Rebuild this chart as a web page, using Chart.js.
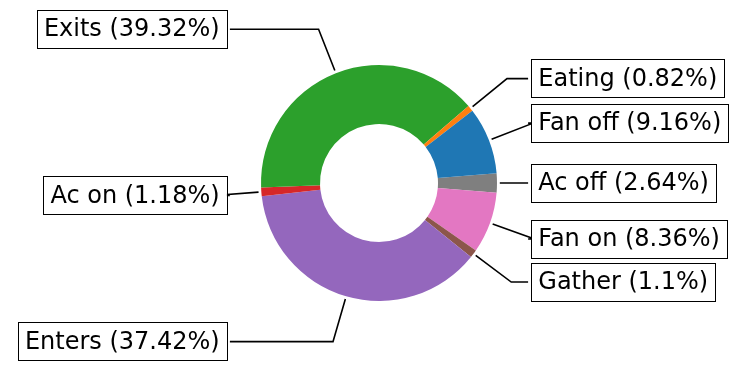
<!DOCTYPE html>
<html>
<head>
<meta charset="utf-8">
<script src="https://cdn.jsdelivr.net/npm/chart.js@4"></script>
<style>
  html, body { margin: 0; padding: 0; background: #fff; }
  canvas { display: block; }
</style>
</head>
<body>
<canvas id="myChart" width="747" height="374"></canvas>
<script>
// slices in matplotlib order (counter-clockwise)
const activities = ["Fan off", "Eating", "Exits", "Ac on", "Enters", "Gather", "Fan on", "Ac off"];
const shares = [9.16, 0.82, 39.32, 1.18, 37.42, 1.1, 8.36, 2.64];
const sliceColors = ["#1f77b4", "#ff7f0e", "#2ca02c", "#d62728", "#9467bd", "#8c564b", "#e377c2", "#7f7f7f"];
const startAngle = 4.75; // degrees, ccw from 3 o'clock

// chart.js goes clockwise, so flip the order
const labels = activities.slice().reverse();
const values = shares.slice().reverse();
const colors = sliceColors.slice().reverse();

const fontSize = 24;

// annotation boxes + angled connectors
const annotate = {
  id: "annotate",
  afterDraw(c) {
    const ctx = c.ctx;
    const arcs = c.getDatasetMeta(0).data;
    ctx.save();
    ctx.font = fontSize + "px 'DejaVu Sans'";
    arcs.forEach((arc, i) => {
      const mid = (arc.startAngle + arc.endAngle) / 2;
      const cos = Math.cos(mid), sin = Math.sin(mid);
      const R = arc.outerRadius;
      const px = arc.x + R * cos, py = arc.y + R * sin;
      const side = cos >= 0 ? 1 : -1;
      const tx = arc.x + 1.35 * R * side;
      const ty = arc.y + 1.4 * R * sin;

      const text = `${labels[i]} (${values[i]}%)`;
      const w = ctx.measureText(text).width;
      const pad = 0.3 * fontSize;
      const h = fontSize + 2 * pad;
      const bx = side > 0 ? tx - pad : tx - w - pad;
      const by = ty - h / 2;

      // connector
      const edgeX = side > 0 ? bx - 3 : bx + w + 2 * pad + 3;
      const sx = px + 2.8 * cos, sy = py + 2.8 * sin;
      ctx.strokeStyle = "#000";
      ctx.lineWidth = 1.6;
      ctx.beginPath();
      ctx.moveTo(sx, sy);
      if (Math.abs(sin) > 0.02) {
        const t = (ty - py) / sin;
        ctx.lineTo(px + t * cos, ty);
      }
      ctx.lineTo(edgeX, ty);
      ctx.stroke();

      // box
      ctx.fillStyle = "#fff";
      ctx.fillRect(bx, by, w + 2 * pad, h);
      ctx.lineWidth = 1;
      ctx.strokeRect(Math.round(bx) + 0.5, Math.round(by) + 0.5, Math.round(w + 2 * pad), Math.round(h));

      ctx.fillStyle = "#000";
      ctx.textBaseline = "alphabetic";
      ctx.textAlign = side > 0 ? "left" : "right";
      ctx.fillText(text, tx, ty + 0.29 * fontSize);
    });
    ctx.restore();
  }
};

new Chart(document.getElementById("myChart"), {
  type: "doughnut",
  data: {
    labels,
    datasets: [{
      data: values,
      backgroundColor: colors,
      borderWidth: 0,
    }],
  },
  options: {
    responsive: false,
    animation: false,
    devicePixelRatio: 1,
    rotation: 90 - startAngle,
    cutout: "50%",
    layout: { padding: { left: 261, right: 250, top: 65, bottom: 73 } },
    plugins: {
      legend: { display: false },
      tooltip: { enabled: false },
    },
  },
  plugins: [annotate],
});
</script>
</body>
</html>
